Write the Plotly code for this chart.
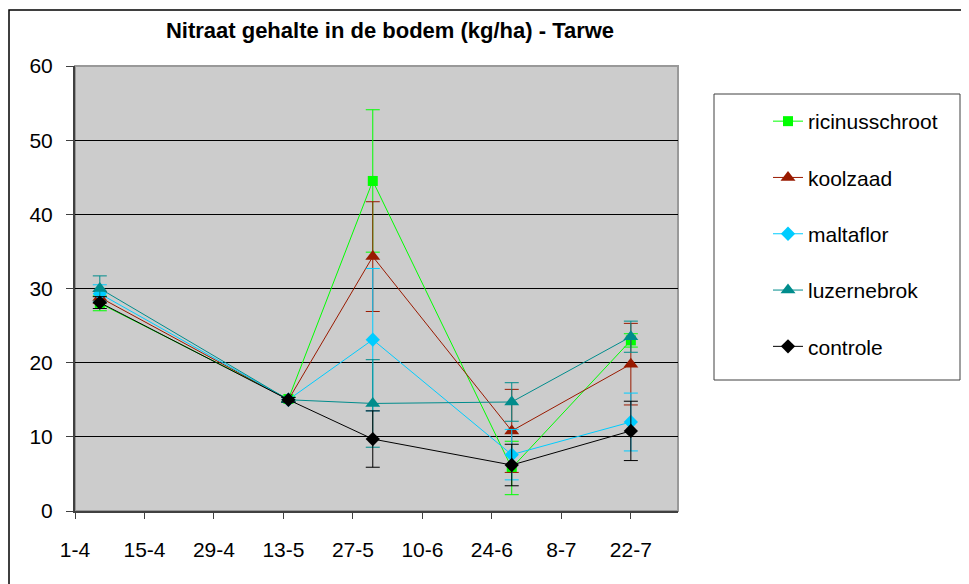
import plotly.graph_objects as go

dates = ["2007-04-06", "2007-05-14", "2007-05-31", "2007-06-28", "2007-07-22"]
tick_labels = ["1-4", "15-4", "29-4", "13-5", "27-5", "10-6", "24-6", "8-7", "22-7"]

series_names = ["ricinusschroot", "koolzaad", "maltaflor", "luzernebrok", "controle"]
ricinusschroot = [28.0, 15.1, 44.5, 5.8, 23.0]
ricinusschroot_err = [1.0, 0.3, 9.6, 3.6, 0.9]
koolzaad = [28.8, 15.0, 34.3, 10.8, 19.8]
koolzaad_err = [0.8, 0.3, 7.4, 5.6, 5.5]
maltaflor = [29.3, 15.0, 23.1, 7.6, 12.0]
maltaflor_err = [1.2, 0.3, 9.6, 3.4, 3.9]
luzernebrok = [30.0, 15.0, 14.5, 14.7, 23.5]
luzernebrok_err = [1.7, 0.3, 5.9, 2.6, 2.1]
controle = [28.1, 15.0, 9.7, 6.2, 10.8]
controle_err = [0.8, 0.3, 3.8, 2.8, 4.0]

values = [ricinusschroot, koolzaad, maltaflor, luzernebrok, controle]
errors = [ricinusschroot_err, koolzaad_err, maltaflor_err, luzernebrok_err, controle_err]
colors = ["#00FF00", "#991A00", "#00CCFF", "#008C8C", "#000000"]
symbols = ["square", "triangle-up", "diamond", "triangle-up", "diamond"]
sizes = [10, 13, 11, 13, 11]

FONT = "Liberation Sans, Arial, sans-serif"

# page offset of the rendered figure (body margin)
OFF = 8
L, T, PW, PH = 75 - OFF, 66 - OFF, 603, 445

fig = go.Figure()
for i, name in enumerate(series_names):
    fig.add_trace(go.Scatter(
        x=dates, y=values[i], name=name, mode="lines+markers",
        legendgroup=name,
        line=dict(color=colors[i], width=1),
        marker=dict(symbol=symbols[i], size=sizes[i], color=colors[i],
                    line=dict(width=0)),
        error_y=dict(type="data", array=errors[i], visible=True,
                     color=colors[i], thickness=1, width=7),
    ))

tickvals = ["2007-04-01", "2007-04-15", "2007-04-29", "2007-05-13", "2007-05-27",
            "2007-06-10", "2007-06-24", "2007-07-08", "2007-07-22"]


def px(xpage):
    return (xpage - 75) / PW


def py(ypage):
    return (511 - ypage) / PH


fig.update_layout(
    width=969, height=584,
    margin=dict(l=L, r=969 - L - PW, t=T, b=584 - T - PH),
    paper_bgcolor="white",
    plot_bgcolor="#CCCCCC",
    font=dict(family=FONT, size=21, color="black"),
    title=dict(text="<b>Nitraat gehalte in de bodem (kg/ha) - Tarwe</b>",
               x=px(390), xref="paper", xanchor="center",
               y=1 - (30 - OFF) / 584, yref="container", yanchor="middle",
               font=dict(family=FONT, size=22, color="black")),
    showlegend=True,
    legend=dict(x=px(768), xanchor="left",
                y=py(101), yanchor="top",
                bgcolor="rgba(0,0,0,0)", borderwidth=0,
                traceorder="grouped", tracegroupgap=26,
                font=dict(family=FONT, size=21, color="black")),
    xaxis=dict(type="date", range=["2007-04-01", "2007-07-31 12:00"],
               tickmode="array", tickvals=tickvals, ticktext=tick_labels,
               ticks="outside", ticklen=6, tickcolor="#404040",
               showgrid=False, showline=True, linecolor="#404040", linewidth=2,
               zeroline=False, ticklabelstandoff=13,
               tickfont=dict(family=FONT, size=21)),
    yaxis=dict(range=[0, 60], dtick=10, ticks="outside", ticklen=7,
               tickcolor="#404040", showgrid=True, gridcolor="#000000",
               gridwidth=1, showline=True, linecolor="#404040", linewidth=2,
               zeroline=False, ticklabelstandoff=9,
               tickfont=dict(family=FONT, size=21)),
    shapes=[
        dict(type="rect", xref="paper", yref="paper",
             x0=px(9), x1=1.6, y0=-0.3, y1=py(10),
             line=dict(color="#000000", width=1.5), fillcolor="rgba(0,0,0,0)",
             layer="below"),
        dict(type="rect", xref="paper", yref="paper",
             x0=0, x1=1, y0=0, y1=1,
             line=dict(color="#999999", width=2), fillcolor="rgba(0,0,0,0)",
             layer="below"),
        dict(type="rect", xref="paper", yref="paper",
             x0=px(714), x1=px(960), y0=py(380), y1=py(94),
             line=dict(color="#404040", width=1), fillcolor="white",
             layer="below"),
    ],
)

fig.write_html("out.html")
